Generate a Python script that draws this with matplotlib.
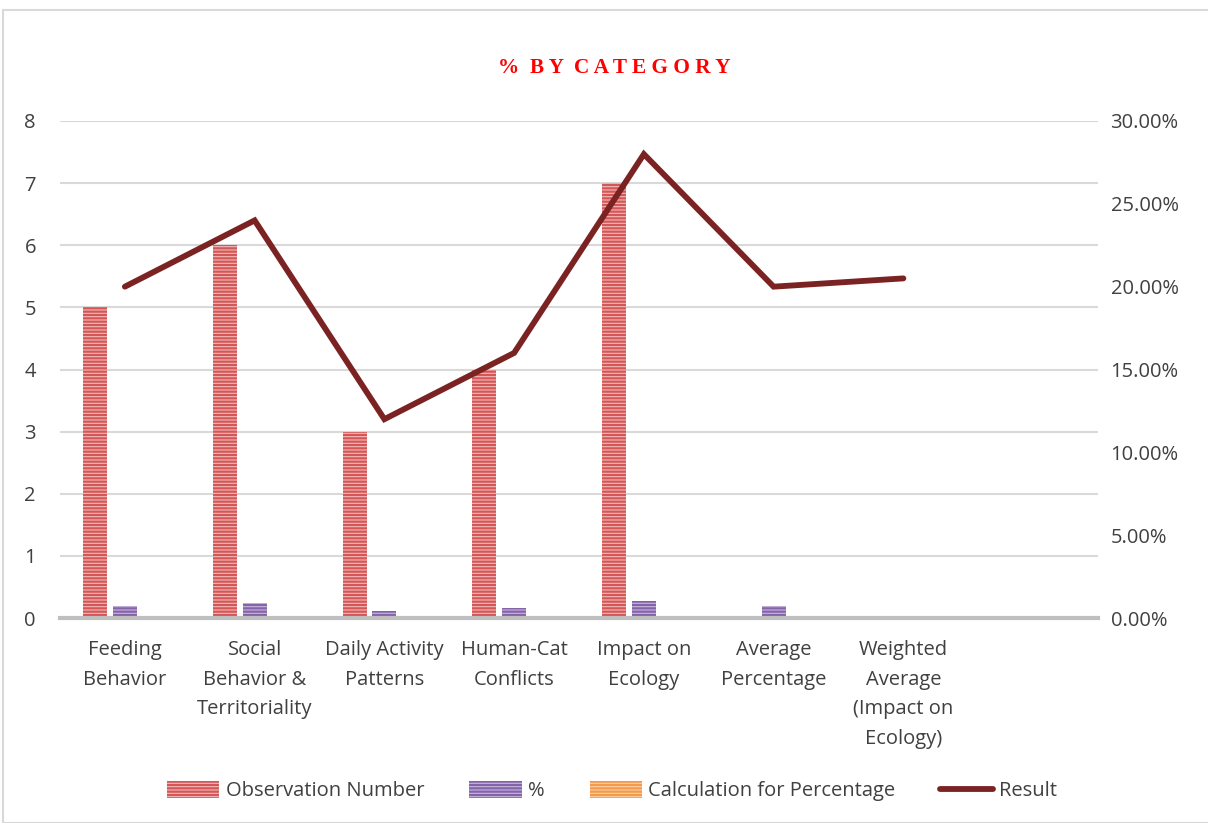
import matplotlib
matplotlib.use("Agg")
import matplotlib.pyplot as plt
from matplotlib.patches import Rectangle
from matplotlib.lines import Line2D
from matplotlib.ticker import FuncFormatter
import numpy as np

categories = ["Feeding\nBehavior", "Social\nBehavior &\nTerritoriality", "Daily Activity\nPatterns",
              "Human-Cat\nConflicts", "Impact on\nEcology", "Average\nPercentage",
              "Weighted\nAverage\n(Impact on\nEcology)", ""]
observation = [5, 6, 3, 4, 7, np.nan, np.nan, np.nan]
percent = [0.20, 0.24, 0.12, 0.16, 0.28, 0.20, np.nan, np.nan]
calculation = [0, 0, 0, 0, 0, 0, 0, 0]
result = [0.20, 0.24, 0.12, 0.16, 0.28, 0.20, 0.205, np.nan]

FONT = ["Open Sans", "DejaVu Sans"]
plt.rcParams['font.family'] = FONT
plt.rcParams['hatch.linewidth'] = 1.6

W, H = 1208, 823
fig = plt.figure(figsize=(W / 100, H / 100), dpi=100)
ax = fig.add_axes([60 / W, 1 - 618 / H, (1098 - 60) / W, (618 - 121) / H])
ax2 = ax.twinx()

x = np.arange(len(categories))
bw = 0.185
gap = 0.045
red_face, red_edge = "#f4b9b9", "#d45757"
pur_face, pur_edge = "#c9b6de", "#8464a8"
org_face, org_edge = "#fcd0a8", "#f59a4a"

ax.bar(x - bw - gap, observation, bw, facecolor=red_face, edgecolor=red_edge,
       hatch="-----", linewidth=0, zorder=3)
ax.bar(x, percent, bw, facecolor=pur_face, edgecolor=pur_edge,
       hatch="-----", linewidth=0, zorder=3)
ax.bar(x + bw + gap, calculation, bw, facecolor=org_face, edgecolor=org_edge,
       hatch="-----", linewidth=0, zorder=3)

ax2.plot(x, result, color="#7b2323", linewidth=4.2, solid_capstyle="round",
         solid_joinstyle="miter", zorder=4)

ax.set_xlim(-0.5, len(categories) - 0.5)
ax.set_ylim(0, 8)
ax2.set_ylim(0, 0.30)
ax.set_yticks(range(0, 9))
ax2.set_yticks(np.arange(0, 0.301, 0.05))
ax2.yaxis.set_major_formatter(FuncFormatter(lambda v, p: f"{v*100:.2f}%"))

ax.set_xticks(x)
ax.set_xticklabels(categories, fontsize=14.5, color="#404040", linespacing=1.63, va="top")
ax.tick_params(axis="x", length=0, pad=16)
ax.tick_params(axis="y", length=0, pad=21.5, labelsize=14.5, labelcolor="#404040")
ax2.tick_params(axis="y", length=0, pad=9, labelsize=14.5, labelcolor="#404040")
for t in ax.get_yticklabels():
    t.set_ha("center")

ax.yaxis.grid(True, color="#d9d9d9", linewidth=1.5, zorder=0)
ax.set_axisbelow(True)
for a in (ax, ax2):
    for s in ("top", "left", "right", "bottom"):
        a.spines[s].set_visible(False)
ax.axhline(0, color="#bfbfbf", linewidth=3, zorder=5, clip_on=False)

fig.text(614 / W, 1 - 68 / H, "%  B Y  C A T E G O R Y", ha="center", va="center",
         fontsize=15.3, fontweight="bold", color="#ff0000", family="Liberation Serif")

handles = [
    Rectangle((0, 0), 1, 1, facecolor=red_face, edgecolor=red_edge, hatch="-----", linewidth=0),
    Rectangle((0, 0), 1, 1, facecolor=pur_face, edgecolor=pur_edge, hatch="-----", linewidth=0),
    Rectangle((0, 0), 1, 1, facecolor=org_face, edgecolor=org_edge, hatch="-----", linewidth=0),
    Line2D([0], [0], color="#7b2323", linewidth=4.2, solid_capstyle="round"),
]
labels = ["Observation Number", "%", "Calculation for Percentage", "Result"]
fig.legend(handles, labels, loc="center", bbox_to_anchor=(612 / W, 1 - 791 / H), ncol=4,
           frameon=False, fontsize=14.5, handlelength=2.6, handleheight=0.9,
           handletextpad=0.3, columnspacing=2.25, labelcolor="#404040")

fig.add_artist(Rectangle((3 / W, 0), 1.0, 1 - 10 / H, transform=fig.transFigure,
                         facecolor="none", edgecolor="#d9d9d9", linewidth=1.5))

fig.savefig("out.png", dpi=100)
